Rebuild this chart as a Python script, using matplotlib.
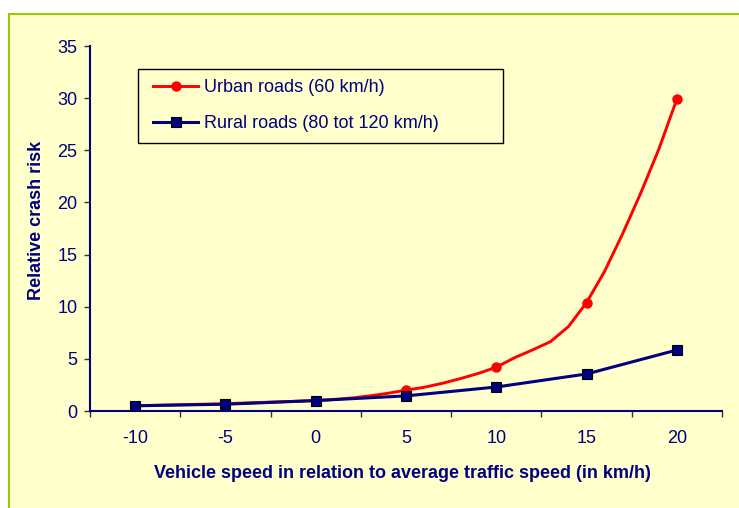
import matplotlib
matplotlib.use("Agg")
import matplotlib.pyplot as plt
from matplotlib.patches import Rectangle

plt.rcParams['font.family'] = ['Liberation Sans', 'DejaVu Sans']

# data
speed_urban = [-10, -5, 0, 1, 2, 3, 4, 5, 6, 7, 8, 9, 10, 11, 12, 13, 14, 15, 16, 17, 18, 19, 20]
risk_urban = [0.5, 0.7, 1.0, 1.1, 1.25, 1.45, 1.7, 2.0, 2.27, 2.65, 3.1, 3.6, 4.2,
              5.1, 5.85, 6.65, 8.1, 10.4, 13.4, 17.0, 20.9, 25.1, 29.9]
speed_rural = [-10, -5, 0, 5, 10, 15, 20]
risk_rural = [0.5, 0.65, 1.0, 1.45, 2.3, 3.55, 5.85]
tick_speeds = [-10, -5, 0, 5, 10, 15, 20]
y_ticks = [0, 5, 10, 15, 20, 25, 30, 35]

navy = '#000080'
panel = '#FFFFCC'
W, H = 739, 508

fig = plt.figure(figsize=(7.39, 5.08), dpi=100)
fig.patch.set_facecolor('white')
fig.patches.append(Rectangle((9 / W, -0.1), 1.2, 1 - 14 / H + 0.1,
                             transform=fig.transFigure, facecolor=panel,
                             edgecolor='#99CC00', linewidth=1.5, zorder=-1))

ax = fig.add_axes([90 / W, 97 / H, 632 / W, 365 / H])
ax.set_facecolor(panel)

marks = [i for i, s in enumerate(speed_urban) if s % 5 == 0]
ax.plot(speed_urban, risk_urban, color='red', lw=2.1, marker='o', ms=6.5,
        markevery=marks, label='Urban roads (60 km/h)', zorder=3)
ax.plot(speed_rural, risk_rural, color=navy, lw=2.2, marker='s', ms=7.5,
        mfc=navy, mec='black', mew=0.8, label='Rural roads (80 tot 120 km/h)', zorder=4)

ax.set_xlim(-12.5, 22.5)
ax.set_ylim(0, 35)
ax.set_xticks(tick_speeds)
ax.set_xticklabels([str(s) for s in tick_speeds])
ax.set_xticks([s - 2.5 for s in tick_speeds] + [22.5], minor=True)
ax.set_yticks(y_ticks)

ax.tick_params(axis='x', which='major', length=0, pad=14, labelsize=13, labelcolor=navy)
ax.tick_params(axis='x', which='minor', length=4, width=1, color='#333333', direction='out')
ax.tick_params(axis='y', length=4, width=1, color='#333333', pad=5, labelsize=13, labelcolor=navy)

for side in ['top', 'right']:
    ax.spines[side].set_visible(False)
for side in ['left', 'bottom']:
    ax.spines[side].set_color(navy)
    ax.spines[side].set_linewidth(1.5)

# legend box drawn by hand, Excel style
ax.add_patch(Rectangle((140 / W, 1 - 144 / H), 364 / W, 74 / H,
                       transform=fig.transFigure, facecolor='#9a9a80',
                       edgecolor='none', zorder=5, clip_on=False))
ax.add_patch(Rectangle((138 / W, 1 - 143 / H), 365 / W, 74 / H,
                       transform=fig.transFigure, facecolor=panel,
                       edgecolor='black', linewidth=1, zorder=5, clip_on=False))

leg = ax.legend(loc='upper left', bbox_to_anchor=(153 / W, 1 - 79 / H),
                bbox_transform=fig.transFigure, fontsize=13, frameon=False,
                handlelength=2.5, labelspacing=1.07, borderpad=0,
                borderaxespad=0, handletextpad=0.3)
leg.set_zorder(6)
for t in leg.get_texts():
    t.set_color(navy)

fig.text(402 / W, 1 - 473 / H, 'Vehicle speed in relation to average traffic speed (in km/h)',
         ha='center', va='center', fontsize=13, fontweight='bold', color=navy)
fig.text(37 / W, 1 - 220 / H, 'Relative crash risk', rotation=90,
         ha='center', va='center', fontsize=13, fontweight='bold', color=navy)

fig.savefig('out.png', dpi=100)
